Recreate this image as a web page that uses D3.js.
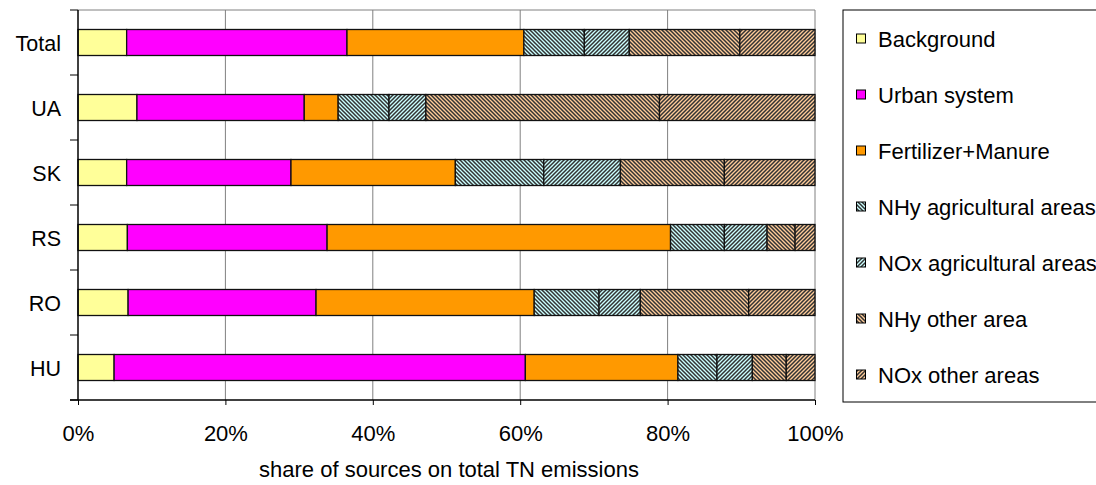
<!DOCTYPE html>
<html>
<head>
<meta charset="utf-8">
<script src="https://cdn.jsdelivr.net/npm/d3@7"></script>
<style>
  html, body { margin: 0; padding: 0; background: #fff; }
  svg { display: block; font-family: "Liberation Sans", Arial, sans-serif; }
</style>
</head>
<body>
<svg id="chart" width="1096" height="485"></svg>
<script>
// ---- data ----
const categories = ["Total", "UA", "SK", "RS", "RO", "HU"];
const seriesNames = ["Background", "Urban system", "Fertilizer+Manure", "NHy agricultural areas",
                     "NOx agricultural areas", "NHy other area", "NOx other areas"];
const background   = [6.6, 8.0, 6.6, 6.7, 6.8, 4.9];
const urbanSystem  = [29.9, 22.7, 22.3, 27.1, 25.5, 55.8];
const fertManure   = [24.0, 4.6, 22.3, 46.6, 29.6, 20.7];
const nhyAgri      = [8.2, 6.9, 12.0, 7.3, 8.8, 5.3];
const noxAgri      = [6.1, 5.0, 10.4, 5.8, 5.6, 4.8];
const nhyOther     = [15.0, 31.7, 14.1, 3.8, 14.7, 4.6];
const noxOther     = [10.2, 21.1, 12.3, 2.7, 9.0, 3.9];
const xTicks = [0, 0.2, 0.4, 0.6, 0.8, 1.0];
const xTitle = "share of sources on total TN emissions";

const seriesValues = [background, urbanSystem, fertManure, nhyAgri, noxAgri, nhyOther, noxOther];
const fills = ["#ffff99", "#ff00ff", "#ff9900", "url(#nhyAgri)", "url(#noxAgri)", "url(#nhyOther)", "url(#noxOther)"];

const svg = d3.select("#chart");
const defs = svg.append("defs");
function hatch(id, bg, dir) {
  const p = defs.append("pattern").attr("id", id).attr("patternUnits", "userSpaceOnUse")
    .attr("width", 4).attr("height", 4);
  p.append("rect").attr("width", 4).attr("height", 4).attr("fill", bg);
  const path = dir === "down"
    ? "M-1,-1 L5,5 M-1,3 L1,5 M3,-1 L5,1"
    : "M-1,5 L5,-1 M-1,1 L1,-1 M3,5 L5,3";
  p.append("path").attr("d", path).attr("stroke", "#333").attr("stroke-width", 1.5);
}
hatch("nhyAgri", "#ccffff", "down");
hatch("noxAgri", "#ccffff", "up");
hatch("nhyOther", "#ffcc99", "down");
hatch("noxOther", "#ffcc99", "up");

const x = d3.scaleLinear().domain([0, 1]).range([78, 815]);
const y = d3.scaleBand().domain(categories).range([10, 400]).paddingInner(0.6).paddingOuter(0.3);

// table for stack
const table = categories.map((c, i) => {
  const row = { cat: c };
  seriesNames.forEach((s, k) => row[s] = seriesValues[k][i]);
  const tot = d3.sum(seriesNames, s => row[s]);
  seriesNames.forEach(s => row[s] = row[s] / tot);
  return row;
});
const stacked = d3.stack().keys(seriesNames)(table);

// gridlines
svg.append("g").selectAll("line").data(xTicks.slice(1)).join("line")
  .attr("x1", d => x(d)).attr("x2", d => x(d)).attr("y1", 10).attr("y2", 400)
  .attr("stroke", "#808080").attr("stroke-width", 1);
svg.append("line").attr("x1", 78).attr("x2", 815).attr("y1", 10).attr("y2", 10)
  .attr("stroke", "#808080").attr("stroke-width", 1);

// bars
stacked.forEach((layer, k) => {
  svg.append("g").selectAll("rect").data(layer).join("rect")
    .attr("x", d => x(d[0])).attr("width", d => x(d[1]) - x(d[0]))
    .attr("y", d => y(d.data.cat)).attr("height", y.bandwidth())
    .attr("fill", fills[k]).attr("stroke", "#111").attr("stroke-width", 1.3);
});

// y axis
const yBounds = d3.range(categories.length + 1).map(i => 10 + i * y.step());
svg.append("line").attr("x1", 78).attr("x2", 78).attr("y1", 10).attr("y2", 400)
  .attr("stroke", "#000").attr("stroke-width", 1.5);
svg.append("g").selectAll("line").data(yBounds).join("line")
  .attr("x1", 70).attr("x2", 78).attr("y1", d => d).attr("y2", d => d)
  .attr("stroke", "#000").attr("stroke-width", 1);
svg.append("g").selectAll("text").data(categories).join("text")
  .attr("x", 61).attr("y", d => y(d) + y.bandwidth() / 2 + 8)
  .attr("text-anchor", "end").attr("font-size", 21.5).attr("fill", "#000").text(d => d);

// x axis
const xAxis = d3.axisBottom(x).tickValues(xTicks).tickFormat(d3.format(".0%")).tickSize(5).tickPadding(12);
const gx = svg.append("g").attr("transform", "translate(0,400)").call(xAxis);
gx.select(".domain").attr("stroke", "#000").attr("stroke-width", 1.5).attr("d", "M70,0H815");
gx.selectAll(".tick line").attr("stroke", "#000");
gx.selectAll(".tick text").attr("font-size", 22).attr("font-family", "Liberation Sans, Arial, sans-serif")
  .attr("fill", "#000").attr("dy", null).attr("y", 40.5);

svg.append("text").attr("x", 449).attr("y", 477).attr("text-anchor", "middle")
  .attr("font-size", 22).attr("fill", "#000").text(xTitle);

// legend
const lg = svg.append("g");
lg.append("rect").attr("x", 843).attr("y", 10).attr("width", 270).attr("height", 392)
  .attr("fill", "#fff").attr("stroke", "#000").attr("stroke-width", 1);
const ly = d3.scalePoint().domain(seriesNames).range([39, 375]);
seriesNames.forEach((s, k) => {
  lg.append("rect").attr("x", 856.5).attr("y", ly(s) - 5).attr("width", 9).attr("height", 9)
    .attr("fill", fills[k]).attr("stroke", "#000").attr("stroke-width", 1);
  lg.append("text").attr("x", 878).attr("y", ly(s) + 8).attr("font-size", 22).attr("fill", "#000").text(s);
});
</script>
</body>
</html>
